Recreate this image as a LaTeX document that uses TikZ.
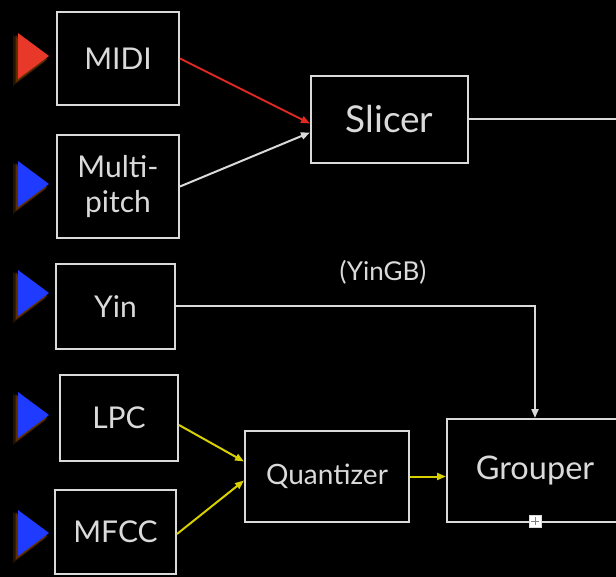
\documentclass[tikz,border=0pt]{standalone}
\usepackage{fontspec}
\setmainfont{Lato}
\usetikzlibrary{arrows.meta,calc}
\definecolor{lg}{HTML}{DADADA}
\definecolor{trired}{HTML}{E8382A}
\definecolor{triblue}{HTML}{1F3BFF}
\definecolor{glow}{HTML}{B35A00}
\definecolor{arrred}{HTML}{E02A20}
\definecolor{arryel}{HTML}{D8D000}
\newcommand\inputtri[2]{%
  \fill[glow,opacity=0.2] (13,#2-21) -- (13,#2+30) -- (46,#2+5) -- cycle;
  \fill[glow,opacity=0.4] (15.5,#2-21) -- (15.5,#2+27) -- (47.5,#2+3) -- cycle;
  \fill[#1] (18,#2-23) -- (18,#2+23) -- (49,#2) -- cycle;}
\begin{document}
\begin{tikzpicture}[x=1pt,y=-1pt,
  box/.style={draw=lg,line width=2pt,fill=black,text=lg,inner sep=0pt,anchor=north west,align=center},
  fa/.style={font=\fontsize{30}{35}\selectfont},
  conn/.style={line width=2pt,-{Triangle[length=9pt,width=7pt]}}]
\fill[black] (0,0) rectangle (616,577);
\useasboundingbox (0,0) rectangle (616,577);
\inputtri{trired}{56}
\inputtri{triblue}{184}
\inputtri{triblue}{293}
\inputtri{triblue}{415}
\inputtri{triblue}{533}
\node[box,fa,minimum width=122pt,minimum height=93pt] (midi) at (56,11) {MIDI};
\node[box,fa,minimum width=122pt,minimum height=103pt] (multi) at (56,134) {Multi-\\pitch};
\node[box,minimum width=157pt,minimum height=87pt,font=\fontsize{37}{42}\selectfont] (slicer) at (310,75) {Slicer};
\node[box,fa,minimum width=119pt,minimum height=85pt] (yin) at (55,263) {Yin};
\node[box,fa,minimum width=118pt,minimum height=86pt] (lpc) at (59,374) {LPC};
\node[box,fa,minimum width=121pt,minimum height=84pt] (mfcc) at (54,489) {MFCC};
\node[box,minimum width=164pt,minimum height=91pt,font=\fontsize{28}{32}\selectfont] (quant) at (244,430) {Quantizer};
\node[box,minimum width=176pt,minimum height=103pt,font=\fontsize{32.5}{38}\selectfont] (grouper) at (446,418) {Grouper};
\node[text=lg,font=\fontsize{26}{30}\selectfont] (yingb) at (383,272) {(YinGB)};
\coordinate (slout) at (618,120);
\draw[lg,line width=2pt] (slicer.east) -- (slicer.east -| slout);
\draw[conn,arrred] (midi.east) -- ($(slicer.west)+(0,4)$);
\draw[conn,lg] (multi.east) -- ($(slicer.west)+(0,13)$);
\draw[conn,lg] (yin.east) -| (grouper.north);
\draw[conn,arryel] ($(lpc.east)+(0,7)$) -- ($(quant.west)+(0,-15)$);
\draw[conn,arryel] ($(mfcc.east)+(0,2)$) -- ($(quant.west)+(0,4)$);
\draw[conn,arryel] (quant.east) -- (grouper.west |- quant.east);
\node[draw=lg,fill=white,line width=1pt,minimum size=12pt,inner sep=0pt] (plus) at (535,521) {};
\draw[gray,line width=1pt] ($(plus.center)+(-4,0)$) -- ($(plus.center)+(4,0)$) ($(plus.center)+(0,-4)$) -- ($(plus.center)+(0,4)$);
\end{tikzpicture}
\end{document}
